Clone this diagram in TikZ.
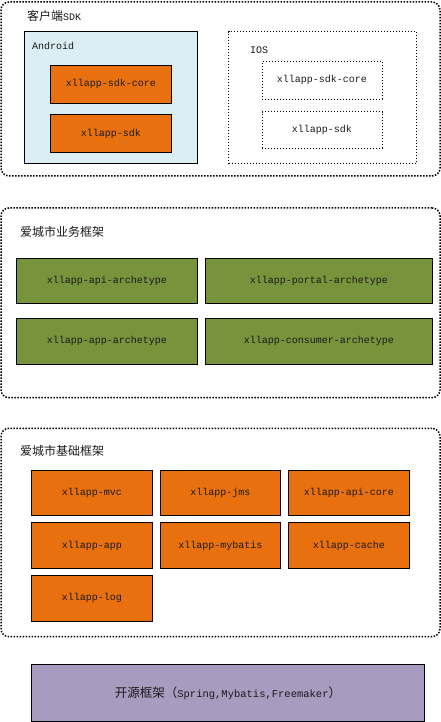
\documentclass[tikz,border=0pt]{standalone}
\usepackage{fontspec}
\setmonofont{Liberation Mono}
\newfontfamily\cjk{Noto Sans CJK SC}
\definecolor{orng}{HTML}{E8700F}
\definecolor{grn}{HTML}{77933C}
\definecolor{lblue}{HTML}{DBEEF3}
\definecolor{purp}{HTML}{A99BBF}
\definecolor{txt}{HTML}{1A1A1A}
\tikzset{
  group/.style={draw=black, line width=1.5pt, dash pattern=on 1.5pt off 1.5pt, line cap=butt, rounded corners=8pt, inner sep=0pt},
  ibox/.style={draw=black, line width=0.9pt, dash pattern=on 1pt off 2pt, inner sep=0pt},
  solidbox/.style={draw=black, line width=1pt, inner sep=0pt, text=txt, font=\ttfamily\fontsize{10}{12}\selectfont},
  obox/.style={solidbox, fill=orng},
  gbox/.style={solidbox, fill=grn},
  wbox/.style={ibox, text=txt, font=\ttfamily\fontsize{10}{12}\selectfont},
  ttl/.style={anchor=west, inner sep=0pt, text=txt, font=\cjk\fontsize{12}{14}\selectfont},
  lbl/.style={anchor=west, inner sep=0pt, text=txt, font=\ttfamily\fontsize{10}{12}\selectfont},
}
\begin{document}
\begin{tikzpicture}[x=1pt,y=-1pt]
\useasboundingbox (0,0) rectangle (441,722);
% group 1
\node[group, minimum width=439pt, minimum height=174pt] (g1) at (220.5,89) {};
\node[ttl] (t1) at (27,15.5) {客户端\ttfamily\fontsize{10}{12}\selectfont SDK};
\node[solidbox, fill=lblue, minimum width=173pt, minimum height=131.6pt] (android) at (111,97.5) {};
\node[lbl] (tandroid) at (32,45.5) {Android};
\node[obox, minimum width=121.7pt, minimum height=38pt] (sdkcore) at (110.85,84.3) {xllapp-sdk-core};
\node[obox, minimum width=121.7pt, minimum height=37.6pt] (sdk) at (110.85,133.5) {xllapp-sdk};
\node[ibox, minimum width=188pt, minimum height=131.6pt] (ios) at (322.7,97.5) {};
\node[lbl] (tios) at (250,50) {IOS};
\node[wbox, minimum width=120pt, minimum height=37.7pt] (isdkcore) at (322,80.2) {xllapp-sdk-core};
\node[wbox, minimum width=120pt, minimum height=36.6pt] (isdk) at (322,130) {xllapp-sdk};
% group 2
\node[group, minimum width=439pt, minimum height=189.7pt] (g2) at (220.5,302.8) {};
\node[ttl] (t2) at (20,231.7) {爱城市业务框架};
\node[gbox, minimum width=181.4pt, minimum height=45pt] (api) at (107,280.8) {xllapp-api-archetype};
\node[gbox, minimum width=227pt, minimum height=45pt] (portal) at (318.8,280.8) {xllapp-portal-archetype};
\node[gbox, minimum width=181.4pt, minimum height=46pt] (apparch) at (107,341.3) {xllapp-app-archetype};
\node[gbox, minimum width=227pt, minimum height=46pt] (consumer) at (318.8,341.3) {xllapp-consumer-archetype};
% group 3
\node[group, minimum width=439pt, minimum height=208.4pt] (g3) at (220.5,532.5) {};
\node[ttl] (t3) at (20,450.7) {爱城市基础框架};
\node[obox, minimum width=121.4pt, minimum height=44.6pt] (mvc) at (92,493) {xllapp-mvc};
\node[obox, minimum width=120.4pt, minimum height=44.6pt] (jms) at (220.5,493) {xllapp-jms};
\node[obox, minimum width=121.4pt, minimum height=44.6pt] (apicore) at (349,493) {xllapp-api-core};
\node[obox, minimum width=121.4pt, minimum height=45.6pt] (app) at (92,545.5) {xllapp-app};
\node[obox, minimum width=120.4pt, minimum height=45.6pt] (mybatis) at (220.5,545.5) {xllapp-mybatis};
\node[obox, minimum width=121.4pt, minimum height=45.6pt] (cache) at (349,545.5) {xllapp-cache};
\node[obox, minimum width=121.4pt, minimum height=46pt] (log) at (92,598.3) {xllapp-log};
% open source
\node[solidbox, fill=purp, minimum width=393.4pt, minimum height=57pt, font=\ttfamily\fontsize{10.5}{12}\selectfont] (oss) at (228,692.8) {{\cjk\fontsize{12.5}{14}\selectfont 开源框架（}Spring,Mybatis,Freemaker{\cjk\fontsize{12.5}{14}\selectfont ）}};
\end{tikzpicture}
\end{document}
